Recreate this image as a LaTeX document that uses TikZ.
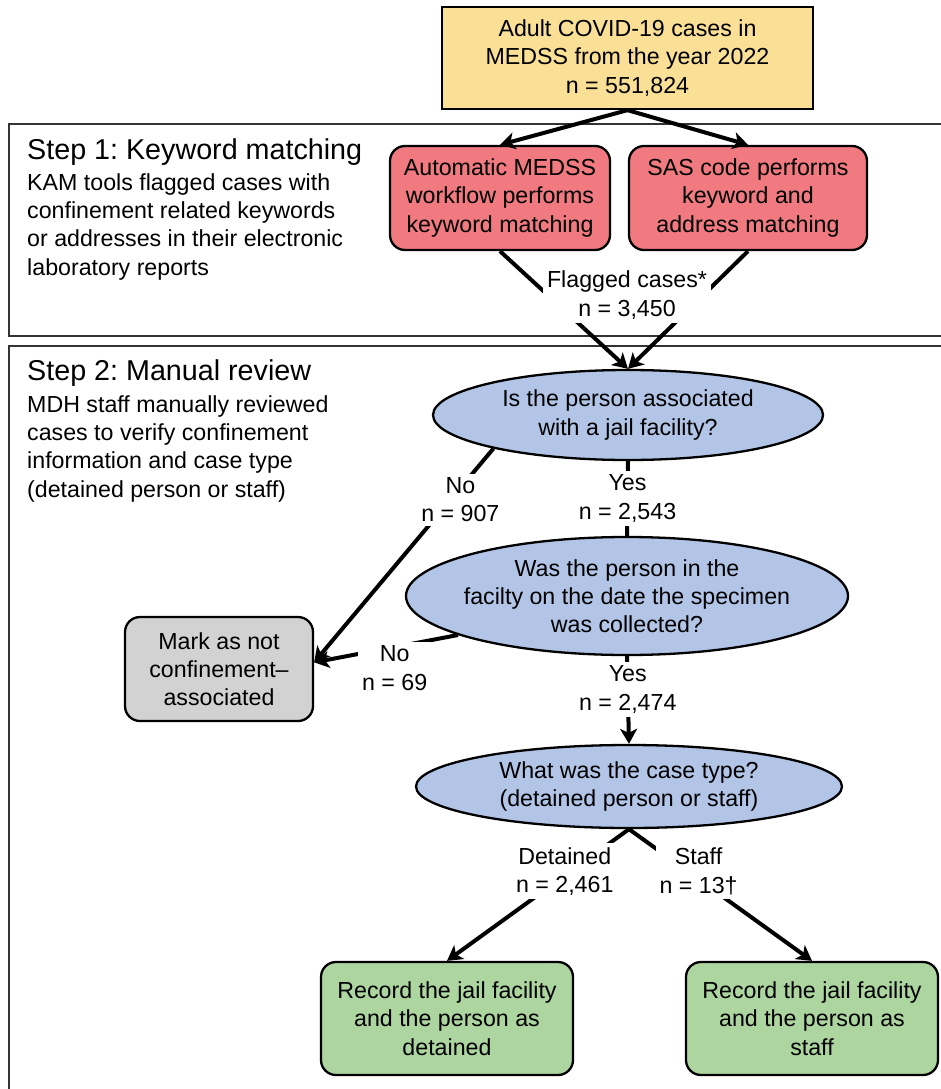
\documentclass[tikz,border=0pt]{standalone}
\usepackage{fontspec}
\setmainfont{Liberation Sans}
\usepackage{tikz}
\usetikzlibrary{shapes.geometric,arrows.meta,positioning}
\definecolor{caseYellow}{RGB}{249,224,150}
\definecolor{kwRed}{RGB}{240,122,128}
\definecolor{qBlue}{RGB}{178,197,230}
\definecolor{markGray}{RGB}{210,210,210}
\definecolor{recGreen}{RGB}{172,213,160}
\newcommand{\bodyfont}{\fontsize{23.2}{28.2}\selectfont}
\newcommand{\titlefont}{\fontsize{28.7}{34}\selectfont}
\frenchspacing

\begin{document}
\begin{tikzpicture}[x=1pt,y=-1pt,
    box/.style={draw,line width=2.3pt,rounded corners=15pt,align=center,inner sep=0pt,font=\bodyfont},
    question/.style={ellipse,draw,line width=2.3pt,fill=qBlue,align=center,inner xsep=-20pt,inner ysep=0pt,font=\bodyfont},
    flow/.style={line width=4pt,-{Stealth[length=15pt,width=17pt,inset=4pt]}},
    link/.style={line width=4pt},
    lbl/.style={fill=white,align=center,inner sep=4pt,font=\bodyfont},
    frame/.style={line width=1.3pt,black!80}]
        \useasboundingbox (0,0) rectangle (941,1089);
        % Step frames
        \draw[frame] (945,124) -- (9,124) -- (9,336) -- (945,336);
        \draw[frame] (945,346) -- (9,346) -- (9,1095);
        \node[anchor=base west,inner sep=0pt,font=\titlefont] (step1title) at (27,159) {Step 1: Keyword matching};
        \node[anchor=north west,inner sep=0pt,align=left,font=\bodyfont] (step1text) at (27,173.4) {KAM tools flagged cases with\\confinement related keywords\\or addresses in their electronic\\laboratory reports};
        \node[anchor=base west,inner sep=0pt,font=\titlefont] (step2title) at (27,380) {Step 2: Manual review};
        \node[anchor=north west,inner sep=0pt,align=left,font=\bodyfont] (step2text) at (27,395.4) {MDH staff manually reviewed\\cases to verify confinement\\information and case type\\(detained person or staff)};
        % Boxes
        \node[box,sharp corners,fill=caseYellow,minimum width=371pt,minimum height=102pt] (cases) at (627.5,58) {Adult COVID-19 cases in\\MEDSS from the year 2022\\n = 551,824};
        \node[box,fill=kwRed,minimum width=220pt,minimum height=104pt] (kwauto) at (500,198) {Automatic MEDSS\\workflow performs\\keyword matching};
        \node[box,fill=kwRed,minimum width=238pt,minimum height=104pt] (kwsas) at (748,198) {SAS code performs\\keyword and\\address matching};
        \node[question,minimum width=390pt,minimum height=90pt] (q1) at (628,415) {Is the person associated\\with a jail facility?};
        \node[question,minimum width=442pt,minimum height=118pt] (q2) at (627,596) {Was the person in the\\facilty on the date the specimen\\was collected?};
        \node[question,minimum width=426pt,minimum height=83pt] (q3) at (629,786.5) {What was the case type?\\(detained person or staff)};
        \node[box,fill=markGray,minimum width=188pt,minimum height=104pt] (mark) at (219,669) {Mark as not\\confinement--\\associated};
        \node[box,fill=recGreen,minimum width=252pt,minimum height=113pt] (recdet) at (447,1018.5) {Record the jail facility\\and the person as\\detained};
        \node[box,fill=recGreen,minimum width=252pt,minimum height=113pt] (recstaff) at (812,1018.5) {Record the jail facility\\and the person as\\staff};
        % Keyword matching
        \draw[flow] (cases.south) -- (kwauto.north);
        \draw[flow] (cases.south) -- (kwsas.north);
        \draw[flow] (kwauto.south) -- (q1.north);
        \draw[flow] (kwsas.south) -- (q1.north);
        \node[lbl] (flagged) at (627,295) {Flagged cases*\\n = 3,450};
        % Manual review
        \draw[link] (q1.south) -- node[lbl] (yes1) {Yes\\n = 2,543} (q2.north);
        \draw[flow] (q1.194) -- node[lbl,pos=0.24,xshift=10pt] (no1) {No\\n = 907} (mark.4);
        \draw[flow] (q2.193) -- node[lbl,pos=0.44,yshift=-21pt] (no2) {No\\n = 69} (mark.4);
        \draw[flow] (q2.south) -- node[lbl,pos=0.38] (yes2) {Yes\\n = 2,474} (q3.north);
        \draw[flow] (q3.south) -- node[lbl,pos=0.32,xshift=-6pt] (det) {Detained\\n = 2,461} (recdet.north);
        \draw[flow] (q3.south) -- node[lbl,pos=0.32,xshift=11pt] (staff) {Staff\\n = 13†} (recstaff.north);
      \end{tikzpicture}
\end{document}
